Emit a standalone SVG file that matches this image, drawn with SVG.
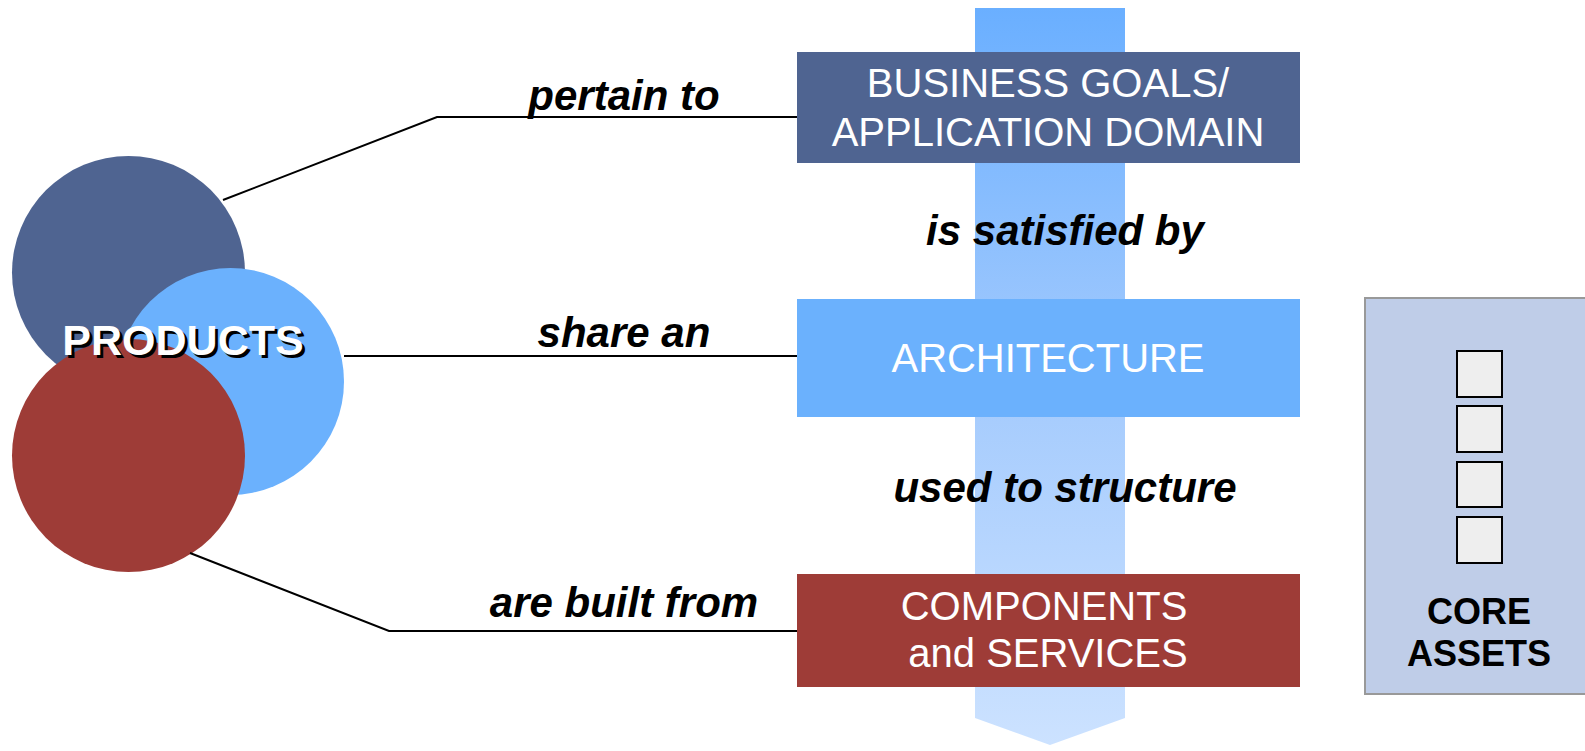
<svg xmlns="http://www.w3.org/2000/svg" width="1585" height="751" viewBox="0 0 1585 751">
<defs>
<linearGradient id="band" x1="0" y1="0" x2="0" y2="1">
<stop offset="0" stop-color="#6AAFFF"/>
<stop offset="0.5" stop-color="#A3CAFD"/>
<stop offset="1" stop-color="#CCE2FF"/>
</linearGradient>
</defs>
<style>
.lbl{font-family:"Liberation Sans",Arial,sans-serif;font-weight:bold;font-style:italic;font-size:42px;fill:#000;text-anchor:middle}
.box{font-family:"Liberation Sans",Arial,sans-serif;font-size:40px;fill:#fff;text-anchor:middle}
.core{font-family:"Liberation Sans",Arial,sans-serif;font-weight:bold;font-size:36px;fill:#000;text-anchor:middle}
.conn{fill:none;stroke:#000;stroke-width:2}
.sq{fill:#EEEEEE;stroke:#000;stroke-width:2}
</style>
<rect width="1585" height="751" fill="#fff"/>
<g id="flow-arrow">
<polygon points="975,8 1125,8 1125,718 1050,745 975,718" fill="url(#band)"/>
</g>
<g id="products">
<circle cx="128.5" cy="272.5" r="116.5" fill="#4F6491"/>
<circle cx="230.5" cy="381.5" r="113.5" fill="#6BB1FD"/>
<circle cx="128.5" cy="455.5" r="116.5" fill="#9E3C37"/>
<text x="186" y="358" font-family="Liberation Sans,Arial,sans-serif" font-weight="bold" font-size="43" text-anchor="middle" fill="#000">PRODUCTS</text>
<text x="183" y="355" font-family="Liberation Sans,Arial,sans-serif" font-weight="bold" font-size="43" text-anchor="middle" fill="#fff">PRODUCTS</text>
</g>
<g id="connectors">
<polyline class="conn" points="223,200 437,117 797,117"/>
<line class="conn" x1="344" y1="356" x2="797" y2="356"/>
<polyline class="conn" points="190,553 389,631 797,631"/>
</g>
<g id="business-goals">
<rect x="797" y="52" width="503" height="111" fill="#4F6491"/>
<text class="box" x="1048" y="97">BUSINESS GOALS/</text>
<text class="box" x="1048" y="146">APPLICATION DOMAIN</text>
</g>
<g id="architecture">
<rect x="797" y="299" width="503" height="118" fill="#6BB1FD"/>
<text class="box" x="1048" y="372" textLength="313" lengthAdjust="spacingAndGlyphs">ARCHITECTURE</text>
</g>
<g id="components">
<rect x="797" y="574" width="503" height="113" fill="#9E3C37"/>
<text class="box" x="1044" y="620">COMPONENTS</text>
<text class="box" x="1048" y="667">and SERVICES</text>
</g>
<g id="labels">
<text class="lbl" x="624" y="110">pertain to</text>
<text class="lbl" x="1065" y="245" font-size="40">is satisfied by</text>
<text class="lbl" x="624" y="347">share an</text>
<text class="lbl" x="1065" y="502">used to structure</text>
<text class="lbl" x="624" y="617">are built from</text>
</g>
<g id="core-assets">
<rect x="1365" y="298" width="225" height="396" fill="#BFCDE8" stroke="#999" stroke-width="2"/>
<rect class="sq" x="1457" y="351" width="45" height="46"/>
<rect class="sq" x="1457" y="406" width="45" height="46"/>
<rect class="sq" x="1457" y="462" width="45" height="45"/>
<rect class="sq" x="1457" y="517" width="45" height="46"/>
<text class="core" x="1479" y="624">CORE</text>
<text class="core" x="1479" y="666">ASSETS</text>
</g>
</svg>
